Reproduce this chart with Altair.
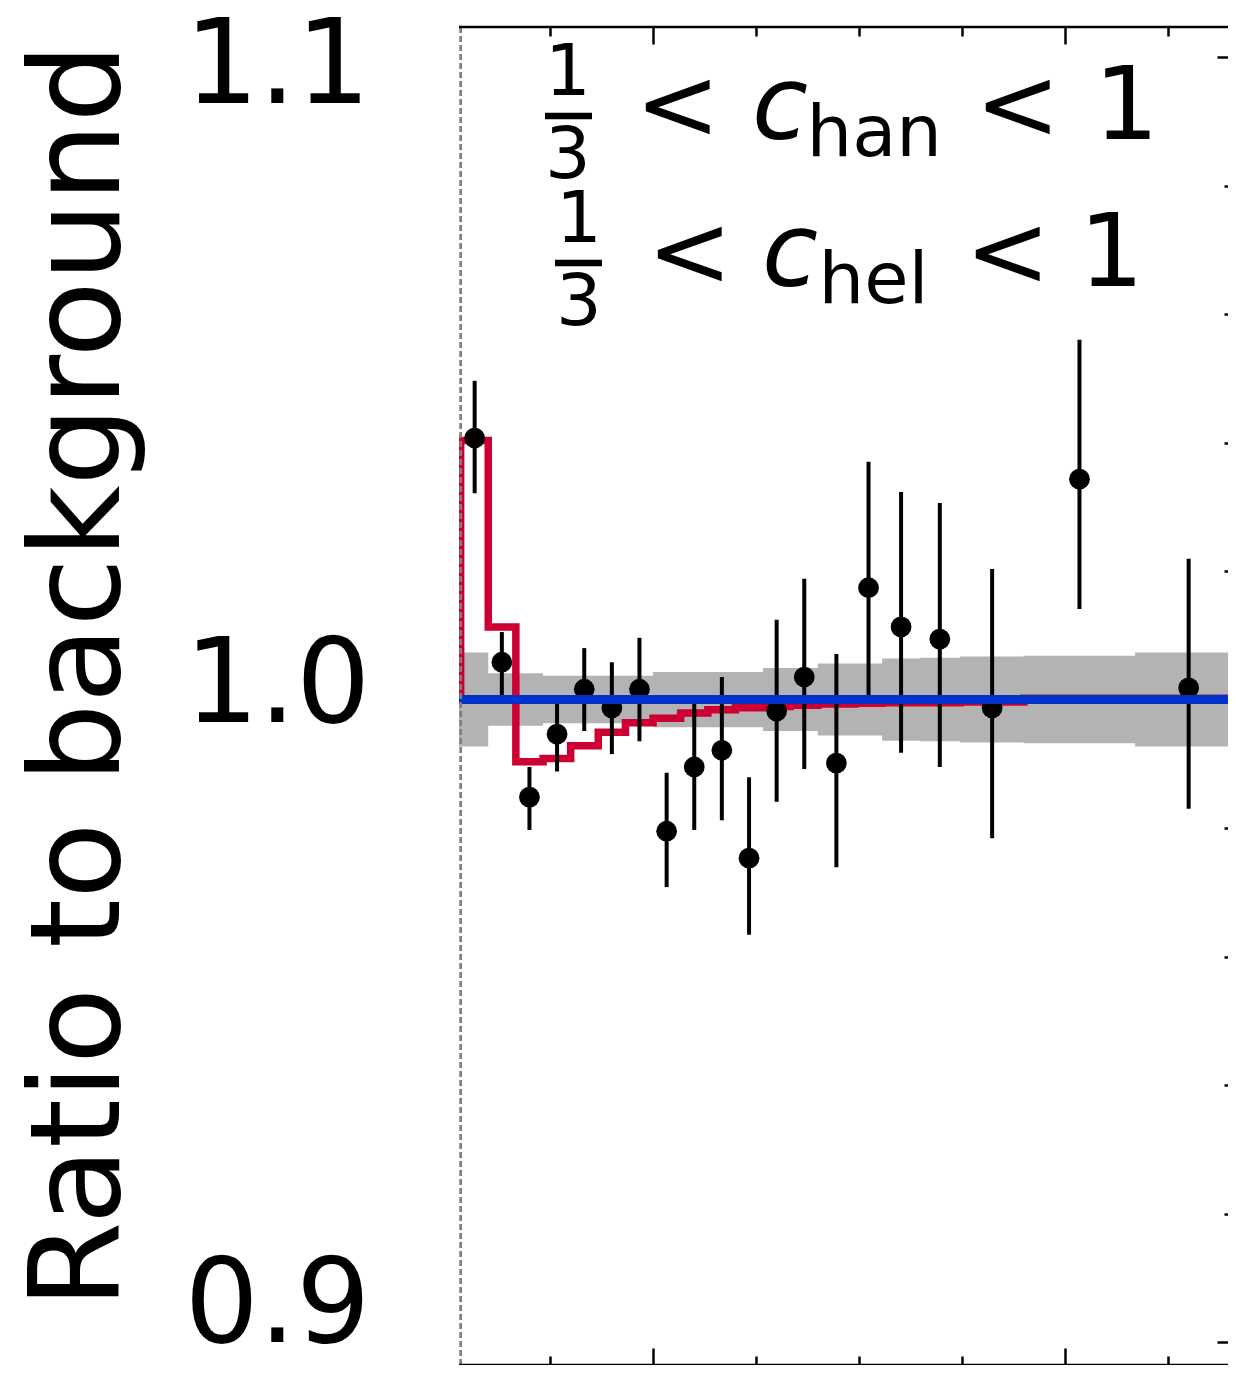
import altair as alt
import pandas as pd

# ---------------- values ----------------
bin_edges = [353.3, 360.0, 366.7, 373.3, 380.0, 386.7, 393.3, 400.0, 406.7, 413.3,
             420.0, 426.7, 433.3, 440.0, 449.0, 455.6, 464.8, 474.5, 490.0, 517.0, 543.0]
bin_centers = [356.7, 363.3, 370.0, 376.7, 383.3, 390.0, 396.7, 403.3, 410.0, 416.7,
               423.3, 430.0, 436.7, 444.5, 452.3, 460.2, 469.6, 482.3, 503.5, 530.0]
data_ratio = [1.0407, 1.0058, 0.9848, 0.9946, 1.0016, 0.9987, 1.0016, 0.9795, 0.9895, 0.9921,
              0.9753, 0.9982, 1.0035, 0.9901, 1.0174, 1.0113, 1.0094, 0.9987, 1.0343, 1.0018]
data_hi = [1.0496, 1.0105, 0.9895, 1.0004, 1.0080, 1.0058, 1.0096, 0.9886, 0.9993, 1.0035,
           0.9879, 1.0124, 1.0188, 1.0071, 1.0370, 1.0323, 1.0306, 1.0203, 1.0560, 1.0219]
data_lo = [1.0321, 1.0007, 0.9797, 0.9888, 0.9951, 0.9915, 0.9935, 0.9708, 0.9797, 0.9812,
           0.9634, 0.9841, 0.9892, 0.9739, 1.0004, 0.9917, 0.9895, 0.9784, 1.0141, 0.9830]
signal_ratio = [1.0403, 1.0113, 0.9903, 0.9908, 0.9928, 0.9949, 0.9964, 0.9971, 0.9979, 0.9984,
                0.9987, 0.9989, 0.9991, 0.9993, 0.9994, 0.9995, 0.9995, 0.9996, 1.0002, 1.0002]
band_halfwidth = [0.0073, 0.0041, 0.0041, 0.0037, 0.0037, 0.0037, 0.0037, 0.0043, 0.0043, 0.0043,
                  0.0043, 0.0049, 0.0049, 0.0056, 0.0056, 0.0064, 0.0065, 0.0067, 0.0068, 0.0073]
background_ratio = 1.0
threshold = 353.3

x_major_ticks = [400, 500]
x_minor_ticks = [375, 425, 450, 475, 525]
y_label_values = [0.9, 1.0, 1.1]
y_major_ticks = [0.9, 1.0, 1.1]
y_minor_ticks = [0.92, 0.94, 0.96, 0.98, 1.02, 1.04, 1.06, 1.08]
y_title = "Ratio to background"

# ---------------- tables built from the lists ----------------
band_df = pd.DataFrame({
    "x": [352.9] + bin_edges[1:],
    "lo": [background_ratio - h for h in band_halfwidth] + [background_ratio - band_halfwidth[-1]],
    "hi": [background_ratio + h for h in band_halfwidth] + [background_ratio + band_halfwidth[-1]],
})
step_df = pd.DataFrame({
    "x": [bin_edges[0]] + bin_edges,
    "y": [background_ratio] + signal_ratio + [signal_ratio[-1]],
    "i": list(range(len(bin_edges) + 1)),
})
pts_df = pd.DataFrame({"x": bin_centers, "y": data_ratio, "lo": data_lo, "hi": data_hi})
one = pd.DataFrame({"k": [0]})

# whole chart must stay within the 1220px body width (else the svg is shrunk)
W, H = 769, 1338
XS = alt.Scale(domain=[352.9, 352.9 + W / 4.12], nice=False, zero=False)
YB_DOM = [1.10467 - H / 6425.0, 1.10467]
YB = alt.Scale(domain=YB_DOM, nice=False, zero=False)
YA = alt.Scale(domain=[1.11211 - H / 6195.0, 1.11211], nice=False, zero=False)

FONT = "DejaVu Sans"


def tick_axis(orient, values, size, **kw):
    return alt.Axis(orient=orient, values=values, offset=-size, tickSize=size, tickWidth=2.5,
                    tickColor="black", labels=False, domain=False, grid=False, title=None, **kw)


dummy = pd.DataFrame({"xv": [400.0], "yv": [1.0]})

# left labels + title (own scale), bottom major ticks
aux_labels = alt.Chart(dummy).mark_point(opacity=0).encode(
    x=alt.X("xv:Q", scale=XS, axis=tick_axis("bottom", x_major_ticks, 17)),
    y=alt.Y("yv:Q", scale=YA, axis=alt.Axis(
        orient="left", values=y_label_values, format=".1f", ticks=False, domain=False,
        grid=False, labelFont=FONT, labelFontSize=117, labelColor="black", labelLimit=0,
        labelBaseline="alphabetic", labelAlign="right", labelPadding=89,
        title=y_title, titleFont=FONT, titleFontSize=125, titleFontWeight="normal",
        titleColor="black", titleAngle=270, titleX=-341, titleY=648.5, titleLimit=0,
        titleAlign="center", titleBaseline="alphabetic")),
)
aux_major = alt.Chart(dummy).mark_point(opacity=0).encode(
    x=alt.X("xv:Q", scale=XS, axis=tick_axis("top", x_major_ticks, 17)),
    y=alt.Y("yv:Q", scale=YB, axis=tick_axis("right", y_major_ticks, 11)),
)
aux_minor = alt.Chart(dummy).mark_point(opacity=0).encode(
    x=alt.X("xv:Q", scale=XS, axis=tick_axis("bottom", x_minor_ticks, 9)),
    y=alt.Y("yv:Q", scale=YB, axis=tick_axis("right", y_minor_ticks, 4)),
)
aux_top_minor = alt.Chart(dummy).mark_point(opacity=0).encode(
    x=alt.X("xv:Q", scale=XS, axis=tick_axis("top", x_minor_ticks, 9)),
    y=alt.Y("yv:Q", scale=YB, axis=None),
)

X = lambda f: alt.X(f, scale=XS, axis=None)
Y = lambda f: alt.Y(f, scale=YB, axis=None)

band = alt.Chart(band_df).mark_area(interpolate="step-after", color="#b3b3b3", clip=True).encode(
    x=X("x:Q"), y=Y("lo:Q"), y2="hi:Q")
step = alt.Chart(step_df).mark_line(interpolate="step-after", color="#cc0033", strokeWidth=7.5,
                                     strokeJoin="miter", clip=True).encode(
    x=X("x:Q"), y=Y("y:Q"), order="i:Q")
err = alt.Chart(pts_df).mark_rule(color="black", strokeWidth=4).encode(
    x=X("x:Q"), y=Y("lo:Q"), y2="hi:Q")
dots = alt.Chart(pts_df).mark_circle(color="black", size=430, opacity=1).encode(
    x=X("x:Q"), y=Y("y:Q"))
blue = alt.Chart(one).mark_rule(color="#0033cc", strokeWidth=9).encode(
    y=alt.YDatum(background_ratio, scale=YB, axis=None))
vline = alt.Chart(one).mark_rule(color="#7f7f7f", strokeWidth=2.7, strokeDash=[6, 3]).encode(
    x=alt.XDatum(threshold, scale=XS, axis=None))
top_spine = alt.Chart(one).mark_rule(color="black", strokeWidth=2.5).encode(
    y=alt.YDatum(YB_DOM[1], scale=YB, axis=None))
bot_spine = alt.Chart(one).mark_rule(color="black", strokeWidth=2.5).encode(
    y=alt.YDatum(YB_DOM[0], scale=YB, axis=None))


def txt(s, x, y, size, italic=False, align="left"):
    return alt.Chart(one).mark_text(text=s, font=FONT, fontSize=size, align=align,
                                    baseline="alphabetic", color="black",
                                    fontStyle="italic" if italic else "normal").encode(
        x=alt.value(x), y=alt.value(y))


def bar(x1, x2, y):
    return alt.Chart(one).mark_rule(color="black", strokeWidth=6.5).encode(
        x=alt.value(x1), x2=alt.value(x2), y=alt.value(y))


annot = [
    txt("1", 109, 68, 72, align="center"), bar(86, 133, 89), txt("3", 109, 151, 72, align="center"),
    txt("<", 176, 112, 102), txt("c", 293, 112, 102, italic=True), txt("han", 347.5, 129, 72),
    txt("<", 516, 112, 102), txt("1", 635, 112, 102),
    txt("1", 120, 215, 72, align="center"), bar(96, 143, 236), txt("3", 120, 298, 72, align="center"),
    txt("<", 188, 259, 102), txt("c", 303, 259, 102, italic=True), txt("hel", 359.5, 276, 72),
    txt("<", 506, 259, 102), txt("1", 620, 259, 102),
]

chart = alt.layer(
    aux_labels, aux_major, aux_minor, aux_top_minor,
    band, step, err, dots, blue, vline, top_spine, bot_spine, *annot
).resolve_scale(y="independent").resolve_axis(x="independent", y="independent").properties(
    width=W, height=H,
    padding={"left": 451, "top": 19, "right": 0, "bottom": 0},
    autosize=alt.AutoSizeParams(type="none"),
).configure_view(stroke=None).configure_axis(grid=False)

chart.save("out.html", embed_options={"renderer": "svg", "actions": False})
